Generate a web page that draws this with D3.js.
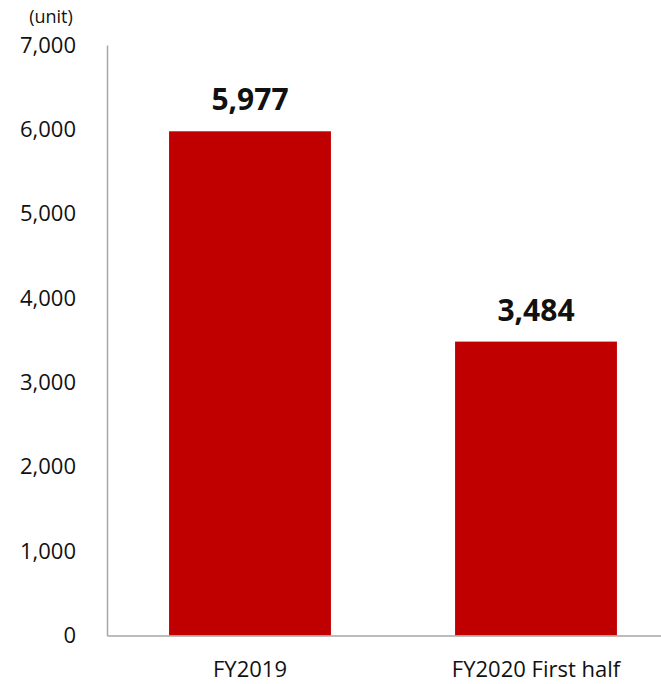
<!DOCTYPE html>
<html lang="en">
    <head>
        <meta charset="utf-8">
        <title>Units</title>
        <script src="https://d3js.org/d3.v7.min.js"></script>
        <style type="text/css">
            body { margin: 0; background: white; }
            .axis path { stroke: #a6a6a6; stroke-width: 1.5px; }
            .axis line { display: none; }
            .axis text {
                font-family: "Open Sans", sans-serif;
                font-size: 22px;
                fill: #111;
            }
            .value {
                font-family: "Open Sans", sans-serif;
                font-size: 30px;
                font-weight: bold;
                fill: #111;
            }
        </style>
    </head>
    <body>
        <script type="text/javascript">

            // data
            const categories = ["FY2019", "FY2020 First half"];
            const units = [5977, 3484];
            const yTicks = [0, 1000, 2000, 3000, 4000, 5000, 6000, 7000];

            const w = 661;
            const h = 684;
            const marginLeft = 107;   // y axis position
            const marginTop = 45;
            const baseY = 635.5;

            const svg = d3.select("body")
                .append("svg")
                .attr("width", w)
                .attr("height", h);

            const xScale = d3.scaleBand()
                .domain(categories)
                .range([marginLeft, marginLeft + 572])
                .paddingInner(0.434)
                .paddingOuter(0.217);

            const yScale = d3.scaleLinear()
                .domain([0, 7000])
                .range([baseY, marginTop]);

            // bars
            svg.selectAll(".bar")
                .data(units)
                .join("rect")
                .attr("class", "bar")
                .attr("x", (d, i) => xScale(categories[i]))
                .attr("width", xScale.bandwidth())
                .attr("y", d => yScale(d))
                .attr("height", d => yScale(0) - yScale(d))
                .attr("fill", "#c00000");

            // value labels
            svg.selectAll(".value")
                .data(units)
                .join("text")
                .attr("class", "value")
                .attr("x", (d, i) => xScale(categories[i]) + xScale.bandwidth() / 2)
                .attr("y", d => yScale(d) - 21)
                .attr("text-anchor", "middle")
                .text(d => d3.format(",")(d));

            // left axis
            const leftAxis = d3.axisLeft(yScale)
                .tickValues(yTicks)
                .tickSize(0)
                .tickSizeOuter(0)
                .tickPadding(31)
                .tickFormat(d3.format(","));

            svg.append("g")
                .attr("class", "axis")
                .attr("transform", "translate(" + marginLeft + ",0)")
                .call(leftAxis);

            // bottom axis
            const bottomAxis = d3.axisBottom(xScale)
                .tickSize(0)
                .tickSizeOuter(0)
                .tickPadding(26);

            svg.append("g")
                .attr("class", "axis")
                .attr("transform", "translate(0," + baseY + ")")
                .call(bottomAxis);

            // unit note
            svg.append("text")
                .attr("x", 51)
                .attr("y", 23)
                .attr("text-anchor", "middle")
                .style("font-family", "'Open Sans', sans-serif")
                .style("font-size", "18px")
                .style("fill", "#111")
                .text("(unit)");
        </script>
    </body>
</html>
